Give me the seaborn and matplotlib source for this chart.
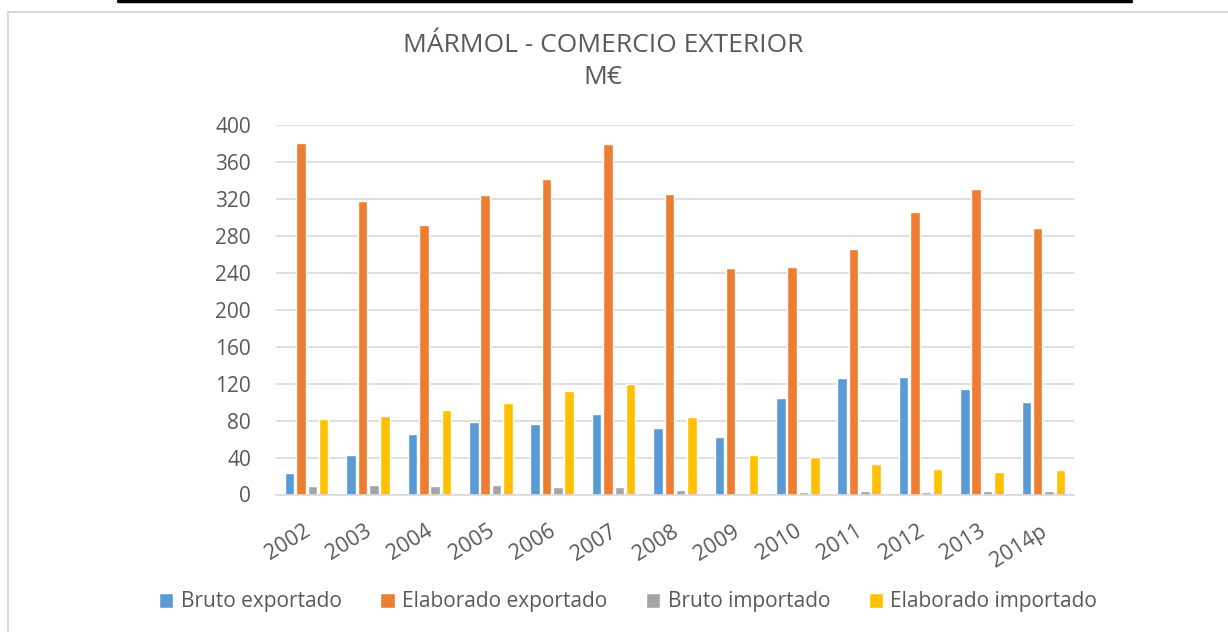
import pandas as pd
import matplotlib.pyplot as plt
import seaborn as sns
from matplotlib.lines import Line2D
from matplotlib.transforms import ScaledTranslation

years = ['2002', '2003', '2004', '2005', '2006', '2007', '2008',
         '2009', '2010', '2011', '2012', '2013', '2014p']
bruto_exp = [23, 43, 66, 79, 76, 87, 72, 62, 105, 126, 127, 114, 100]
elab_exp = [380, 318, 292, 324, 342, 379, 325, 245, 246, 266, 306, 331, 289]
bruto_imp = [9, 10, 9, 10, 8, 8, 5, 2, 3, 4, 3, 4, 4]
elab_imp = [82, 85, 91, 99, 112, 120, 84, 43, 41, 33, 28, 24, 27]
series = ['Bruto exportado', 'Elaborado exportado', 'Bruto importado', 'Elaborado importado']
colors = ['#5B9BD5', '#ED7D31', '#A5A5A5', '#FFC000']

df = pd.DataFrame({'year': years * 4,
                   'value': bruto_exp + elab_exp + bruto_imp + elab_imp,
                   'serie': [s for s in series for _ in years]})

sns.set_style('white')
plt.rcParams['font.family'] = ['Open Sans', 'DejaVu Sans']
txt = '#595959'
grid = '#D9D9D9'

fig = plt.figure(figsize=(12.28, 6.32), dpi=100)
ax = fig.add_axes([276 / 1228, 1 - 494.5 / 632, 798 / 1228, 369.5 / 632])
sns.barplot(data=df, x='year', y='value', hue='serie', palette=colors, saturation=1,
            width=0.74, gap=0.16, ax=ax, legend=True)
ax.set_ylim(0, 400)
ax.set_yticks(range(0, 401, 40))
ax.set_xlim(-0.5, 12.5)
ax.set_xlabel('')
ax.set_ylabel('')
ax.yaxis.grid(True, color=grid, linewidth=1.2)
ax.set_axisbelow(True)
for s in ['top', 'right', 'left']:
    ax.spines[s].set_visible(False)
ax.spines['bottom'].set_color(grid)
ax.spines['bottom'].set_linewidth(1.2)
ax.tick_params(axis='y', length=0, pad=18, labelsize=15, labelcolor=txt)
ax.tick_params(axis='x', length=0, pad=19, labelsize=15.5, labelcolor=txt)
shift = ScaledTranslation(-4 / 100, 0, fig.dpi_scale_trans)
for lab in ax.get_xticklabels():
    lab.set_rotation(32)
    lab.set_ha('right')
    lab.set_rotation_mode('anchor')
    lab.set_transform(lab.get_transform() + shift)

handles, labels = ax.get_legend_handles_labels()
ax.get_legend().remove()
fig.legend(handles, labels, loc='center', bbox_to_anchor=(628 / 1228, 1 - 602 / 632),
           ncol=4, frameon=False, fontsize=15, labelcolor=txt,
           handlelength=0.7, handleheight=0.7, handletextpad=0.35, columnspacing=1.85)

fig.text(603 / 1228, 1 - 46 / 632, 'MÁRMOL - COMERCIO EXTERIOR', ha='center', va='center',
         fontsize=19, color=txt)
fig.text(603 / 1228, 1 - 77 / 632, 'M€', ha='center', va='center', fontsize=19, color=txt)

# marco del gráfico y línea superior del documento
fig.add_artist(Line2D([8 / 1228, 1], [1 - 12 / 632] * 2, color=grid, lw=1.5))
fig.add_artist(Line2D([8 / 1228] * 2, [0, 1 - 12 / 632], color=grid, lw=1.5))
fig.add_artist(Line2D([118 / 1228, 1131 / 1228], [1 - 1 / 632] * 2, color='black', lw=2.5))

fig.savefig('out.png', dpi=100)
